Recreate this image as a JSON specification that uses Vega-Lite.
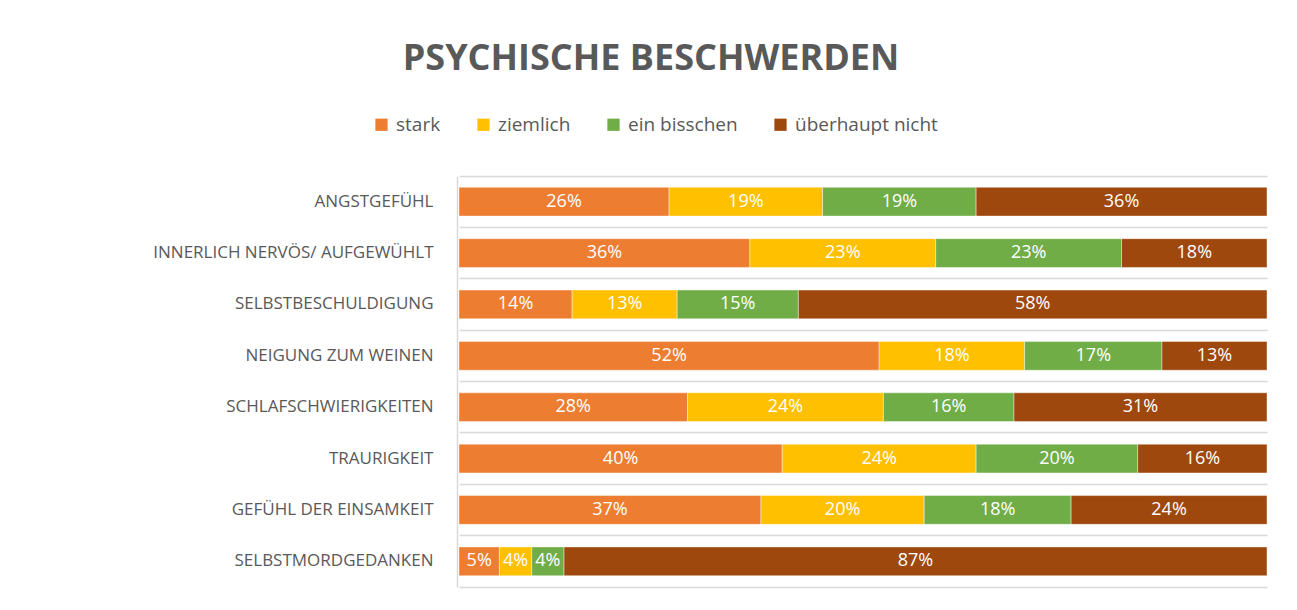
{
  "$schema": "https://vega.github.io/schema/vega-lite/v6.json",
  "width": 808,
  "height": 411,
  "autosize": {"type": "none"},
  "padding": {"left": 459, "top": 176, "right": 30, "bottom": 23},
  "background": "white",
  "title": {
    "text": "PSYCHISCHE BESCHWERDEN",
    "anchor": "middle",
    "dx": -212,
    "offset": 37,
    "font": "Open Sans",
    "fontSize": 36,
    "fontWeight": "bold",
    "color": "#595959"
  },
  "data": {
    "values": [
      {"b": "ANGSTGEFÜHL", "s": "stark", "o": 1, "p": 0.26},
      {"b": "ANGSTGEFÜHL", "s": "ziemlich", "o": 2, "p": 0.19},
      {"b": "ANGSTGEFÜHL", "s": "ein bisschen", "o": 3, "p": 0.19},
      {"b": "ANGSTGEFÜHL", "s": "überhaupt nicht", "o": 4, "p": 0.36},
      {"b": "INNERLICH NERVÖS/ AUFGEWÜHLT", "s": "stark", "o": 1, "p": 0.36},
      {"b": "INNERLICH NERVÖS/ AUFGEWÜHLT", "s": "ziemlich", "o": 2, "p": 0.23},
      {"b": "INNERLICH NERVÖS/ AUFGEWÜHLT", "s": "ein bisschen", "o": 3, "p": 0.23},
      {"b": "INNERLICH NERVÖS/ AUFGEWÜHLT", "s": "überhaupt nicht", "o": 4, "p": 0.18},
      {"b": "SELBSTBESCHULDIGUNG", "s": "stark", "o": 1, "p": 0.14},
      {"b": "SELBSTBESCHULDIGUNG", "s": "ziemlich", "o": 2, "p": 0.13},
      {"b": "SELBSTBESCHULDIGUNG", "s": "ein bisschen", "o": 3, "p": 0.15},
      {"b": "SELBSTBESCHULDIGUNG", "s": "überhaupt nicht", "o": 4, "p": 0.58},
      {"b": "NEIGUNG ZUM WEINEN", "s": "stark", "o": 1, "p": 0.52},
      {"b": "NEIGUNG ZUM WEINEN", "s": "ziemlich", "o": 2, "p": 0.18},
      {"b": "NEIGUNG ZUM WEINEN", "s": "ein bisschen", "o": 3, "p": 0.17},
      {"b": "NEIGUNG ZUM WEINEN", "s": "überhaupt nicht", "o": 4, "p": 0.13},
      {"b": "SCHLAFSCHWIERIGKEITEN", "s": "stark", "o": 1, "p": 0.28},
      {"b": "SCHLAFSCHWIERIGKEITEN", "s": "ziemlich", "o": 2, "p": 0.24},
      {"b": "SCHLAFSCHWIERIGKEITEN", "s": "ein bisschen", "o": 3, "p": 0.16},
      {"b": "SCHLAFSCHWIERIGKEITEN", "s": "überhaupt nicht", "o": 4, "p": 0.31},
      {"b": "TRAURIGKEIT", "s": "stark", "o": 1, "p": 0.40},
      {"b": "TRAURIGKEIT", "s": "ziemlich", "o": 2, "p": 0.24},
      {"b": "TRAURIGKEIT", "s": "ein bisschen", "o": 3, "p": 0.20},
      {"b": "TRAURIGKEIT", "s": "überhaupt nicht", "o": 4, "p": 0.16},
      {"b": "GEFÜHL DER EINSAMKEIT", "s": "stark", "o": 1, "p": 0.37},
      {"b": "GEFÜHL DER EINSAMKEIT", "s": "ziemlich", "o": 2, "p": 0.20},
      {"b": "GEFÜHL DER EINSAMKEIT", "s": "ein bisschen", "o": 3, "p": 0.18},
      {"b": "GEFÜHL DER EINSAMKEIT", "s": "überhaupt nicht", "o": 4, "p": 0.24},
      {"b": "SELBSTMORDGEDANKEN", "s": "stark", "o": 1, "p": 0.05},
      {"b": "SELBSTMORDGEDANKEN", "s": "ziemlich", "o": 2, "p": 0.04},
      {"b": "SELBSTMORDGEDANKEN", "s": "ein bisschen", "o": 3, "p": 0.04},
      {"b": "SELBSTMORDGEDANKEN", "s": "überhaupt nicht", "o": 4, "p": 0.87}
    ]
  },
  "transform": [
    {"stack": "p", "groupby": ["b"], "sort": [{"field": "o", "order": "ascending"}], "offset": "normalize", "as": ["x0", "x1"]}
  ],
  "encoding": {
    "y": {
      "field": "b",
      "type": "nominal",
      "sort": ["ANGSTGEFÜHL", "INNERLICH NERVÖS/ AUFGEWÜHLT", "SELBSTBESCHULDIGUNG", "NEIGUNG ZUM WEINEN", "SCHLAFSCHWIERIGKEITEN", "TRAURIGKEIT", "GEFÜHL DER EINSAMKEIT", "SELBSTMORDGEDANKEN"],
      "scale": {"paddingInner": 0, "paddingOuter": 0},
      "axis": {
        "title": null,
        "ticks": false,
        "offset": 2,
        "labelPadding": 24,
        "labelFont": "Open Sans",
        "labelFontSize": 17,
        "labelColor": "#595959",
        "labelLimit": 500,
        "domain": true,
        "domainColor": "#d9d9d9",
        "domainWidth": 1.5,
        "grid": true,
        "bandPosition": 0,
        "gridColor": "#d9d9d9",
        "gridWidth": 1.5
      }
    }
  },
  "layer": [
    {
      "mark": {"type": "bar", "height": {"band": 0.56}, "stroke": "white", "strokeWidth": 0.6, "strokeOpacity": 0.7},
      "encoding": {
        "x": {
          "field": "x0",
          "type": "quantitative",
          "scale": {"domain": [0, 1], "nice": false, "zero": true},
          "axis": {
            "title": null,
            "labels": false,
            "ticks": false,
            "grid": false,
            "domain": true,
            "domainColor": "#d9d9d9",
            "domainWidth": 1.5
          }
        },
        "x2": {"field": "x1"},
        "color": {
          "field": "s",
          "type": "nominal",
          "scale": {
            "domain": ["stark", "ziemlich", "ein bisschen", "überhaupt nicht"],
            "range": ["#ED7D31", "#FFC000", "#70AD47", "#9E480E"]
          },
          "legend": {
            "title": null,
            "orient": "none",
            "direction": "horizontal",
            "legendX": -87,
            "legendY": -61,
            "symbolType": "square",
            "symbolSize": 150,
            "symbolStrokeWidth": 0,
            "labelFont": "Open Sans",
            "labelFontSize": 19,
            "labelColor": "#595959",
            "labelOffset": 5,
            "columnPadding": 33
          }
        }
      }
    },
    {
      "transform": [
        {"fold": ["x0", "x1"], "as": ["k", "v"]}
      ],
      "mark": {"type": "text", "color": "white", "font": "Open Sans", "fontSize": 18, "baseline": "middle", "align": "center"},
      "encoding": {
        "x": {"field": "v", "aggregate": "mean", "type": "quantitative"},
        "detail": {"field": "s", "type": "nominal"},
        "text": {"field": "p", "type": "quantitative", "format": ".0%"}
      }
    }
  ],
  "config": {
    "view": {"stroke": null}
  }
}
